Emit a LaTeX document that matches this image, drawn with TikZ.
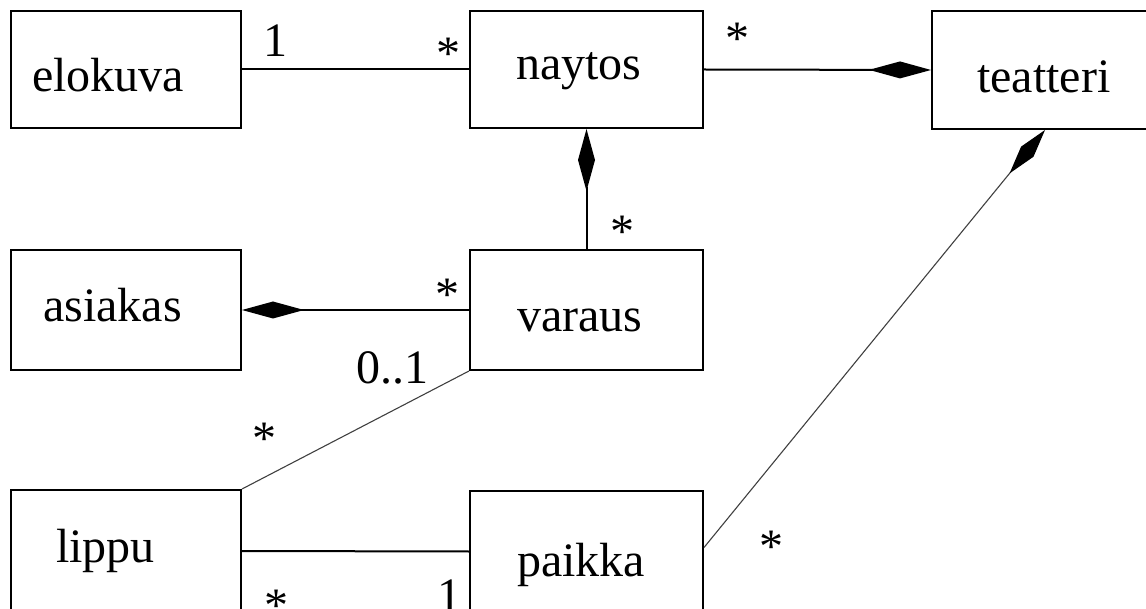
\documentclass[tikz,border=0pt]{standalone}
\usepackage{fontspec}
\setmainfont{Liberation Serif}
\newfontfamily\diagfont{Liberation Serif}
\usetikzlibrary{arrows.meta,calc}
\begin{document}
\begin{tikzpicture}[x=1pt,y=-1pt,
  box/.style={draw, line width=2pt, rectangle, inner sep=0pt},
  lbl/.style={inner sep=0pt, font=\diagfont\fontsize{48}{58}\selectfont},
  conn/.style={line width=2pt},
  thinconn/.style={line width=1.1pt, draw=black!75},
  comp/.style={-{Diamond[length=62pt,width=17pt,color=black]}},
  compthin/.style={-{Diamond[length=56pt,width=16pt,color=black]}},
]
\useasboundingbox (0,0) rectangle (1146,609);
\clip (0,0) rectangle (1146,609);
% boxes
\node[box, minimum width=230pt, minimum height=117pt] (elokuva) at (126,69.5) {};
\node[box, minimum width=233pt, minimum height=117pt] (naytos) at (586.5,69.5) {};
\node[box, minimum width=248pt, minimum height=118pt] (teatteri) at (1056,70) {};
\node[box, minimum width=230pt, minimum height=120pt] (asiakas) at (126,310) {};
\node[box, minimum width=233pt, minimum height=120pt] (varaus) at (586.5,310) {};
\node[box, minimum width=230pt, minimum height=122pt] (lippu) at (126,551) {};
\node[box, minimum width=233pt, minimum height=121pt] (paikka) at (586.5,551.5) {};
% box texts
\node[lbl, anchor=base west] (elokuvaT) at (32,92) {elokuva};
\node[lbl, anchor=base west] (naytosT) at (516,80) {naytos};
\node[lbl, anchor=base west] (teatteriT) at (977,93) {teatteri};
\node[lbl, anchor=base west] (asiakasT) at (43,322) {asiakas};
\node[lbl, anchor=base west] (varausT) at (517,332) {varaus};
\node[lbl, anchor=base west] (lippuT) at (56,562) {lippu};
\node[lbl, anchor=base west] (paikkaT) at (517,576) {paikka};
% connectors
\draw[conn] (elokuva.east) -- (naytos.west);
\draw[conn, comp] (naytos.east) -- (teatteri.west);
\draw[conn, comp] (varaus.north) -- (naytos.south);
\draw[conn, comp] (varaus.west) -- (asiakas.east);
\draw[thinconn] (varaus.south west) -- (lippu.north east);
\draw[conn] (lippu.east) -- (paikka.west);
\coordinate (tb) at ($(teatteri.south west)+(114,0)$);
\coordinate (pe) at ($(paikka.east)+(0,-4)$);
\draw[thinconn, compthin] (pe) -- (tb);
% multiplicities
\node[lbl, anchor=base] (m1) at (275.5,57) {1};
\node[lbl, anchor=base] (m2) at (448,70) {*};
\node[lbl, anchor=base] (m3) at (737,55) {*};
\node[lbl, anchor=base] (m4) at (622,248) {*};
\node[lbl, anchor=base] (m5) at (447,311) {*};
\node[lbl, anchor=base west] (m6) at (356,384) {0..1};
\node[lbl, anchor=base] (m7) at (264,454) {*};
\node[lbl, anchor=base] (m8) at (276,621) {*};
\node[lbl, anchor=base] (m9) at (449.5,611) {1};
\node[lbl, anchor=base] (m10) at (771.5,562) {*};
\end{tikzpicture}
\end{document}
